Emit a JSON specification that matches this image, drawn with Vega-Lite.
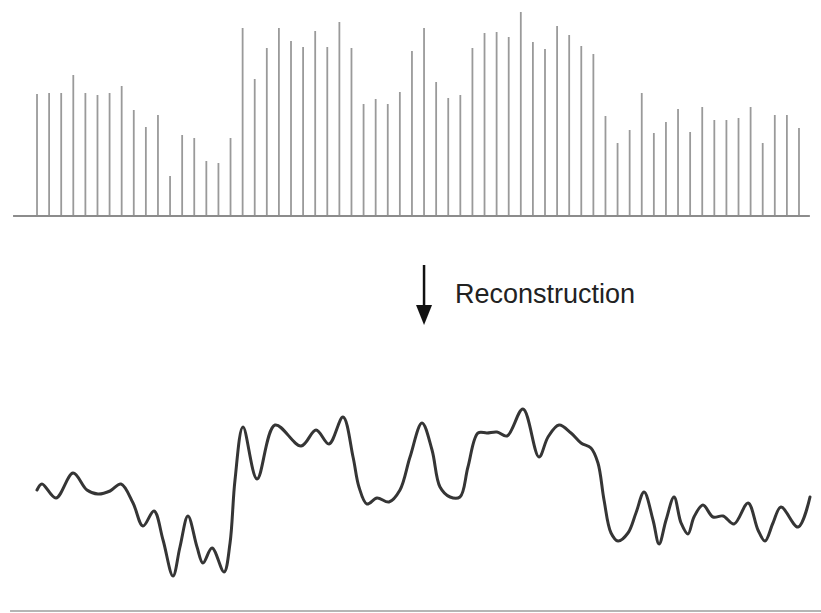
{
  "$schema": "https://vega.github.io/schema/vega-lite/v6.json",
  "padding": 0,
  "spacing": 0,
  "background": "white",
  "datasets": {
    "samples": [
      {"n": 1, "h": 122}, {"n": 2, "h": 123}, {"n": 3, "h": 123}, {"n": 4, "h": 141},
      {"n": 5, "h": 123}, {"n": 6, "h": 121}, {"n": 7, "h": 123}, {"n": 8, "h": 130},
      {"n": 9, "h": 106}, {"n": 10, "h": 89}, {"n": 11, "h": 101}, {"n": 12, "h": 40},
      {"n": 13, "h": 81}, {"n": 14, "h": 78}, {"n": 15, "h": 55}, {"n": 16, "h": 53},
      {"n": 17, "h": 78}, {"n": 18, "h": 188}, {"n": 19, "h": 137}, {"n": 20, "h": 168},
      {"n": 21, "h": 188}, {"n": 22, "h": 175}, {"n": 23, "h": 169}, {"n": 24, "h": 185},
      {"n": 25, "h": 169}, {"n": 26, "h": 194}, {"n": 27, "h": 168}, {"n": 28, "h": 112},
      {"n": 29, "h": 117}, {"n": 30, "h": 112}, {"n": 31, "h": 124}, {"n": 32, "h": 165},
      {"n": 33, "h": 188}, {"n": 34, "h": 134}, {"n": 35, "h": 118}, {"n": 36, "h": 121},
      {"n": 37, "h": 168}, {"n": 38, "h": 183}, {"n": 39, "h": 184}, {"n": 40, "h": 179},
      {"n": 41, "h": 204}, {"n": 42, "h": 174}, {"n": 43, "h": 167}, {"n": 44, "h": 190},
      {"n": 45, "h": 181}, {"n": 46, "h": 170}, {"n": 47, "h": 162}, {"n": 48, "h": 100},
      {"n": 49, "h": 73}, {"n": 50, "h": 86}, {"n": 51, "h": 123}, {"n": 52, "h": 83},
      {"n": 53, "h": 94}, {"n": 54, "h": 107}, {"n": 55, "h": 84}, {"n": 56, "h": 109},
      {"n": 57, "h": 96}, {"n": 58, "h": 96}, {"n": 59, "h": 98}, {"n": 60, "h": 109},
      {"n": 61, "h": 73}, {"n": 62, "h": 101}, {"n": 63, "h": 101}, {"n": 64, "h": 88}
    ],
    "signal": [
      {"t": 1.00, "v": 121}, {"t": 1.41, "v": 127}, {"t": 2.57, "v": 113}, {"t": 3.98, "v": 138},
      {"t": 5.13, "v": 121}, {"t": 6.04, "v": 117}, {"t": 7.04, "v": 120}, {"t": 7.94, "v": 127},
      {"t": 8.94, "v": 108}, {"t": 9.76, "v": 85}, {"t": 10.67, "v": 100}, {"t": 11.42, "v": 71},
      {"t": 12.24, "v": 35}, {"t": 12.82, "v": 64}, {"t": 13.48, "v": 95}, {"t": 14.23, "v": 64},
      {"t": 14.72, "v": 48}, {"t": 15.47, "v": 63}, {"t": 16.46, "v": 39}, {"t": 16.96, "v": 68},
      {"t": 17.37, "v": 131}, {"t": 18.03, "v": 184}, {"t": 19.19, "v": 132}, {"t": 20.68, "v": 186},
      {"t": 22.83, "v": 165}, {"t": 24.07, "v": 181}, {"t": 25.14, "v": 167}, {"t": 26.30, "v": 194},
      {"t": 27.13, "v": 154}, {"t": 27.62, "v": 124}, {"t": 28.28, "v": 107}, {"t": 29.11, "v": 113},
      {"t": 30.10, "v": 109}, {"t": 31.01, "v": 121}, {"t": 31.84, "v": 154}, {"t": 32.83, "v": 188},
      {"t": 33.66, "v": 161}, {"t": 34.32, "v": 124}, {"t": 35.15, "v": 114}, {"t": 35.97, "v": 114},
      {"t": 36.63, "v": 144}, {"t": 37.46, "v": 178}, {"t": 38.21, "v": 178}, {"t": 39.03, "v": 179},
      {"t": 39.86, "v": 175}, {"t": 41.18, "v": 202}, {"t": 42.50, "v": 154}, {"t": 43.25, "v": 174},
      {"t": 44.16, "v": 186}, {"t": 45.15, "v": 178}, {"t": 45.98, "v": 168}, {"t": 46.80, "v": 163},
      {"t": 47.38, "v": 148}, {"t": 47.88, "v": 111}, {"t": 48.46, "v": 78}, {"t": 49.04, "v": 70},
      {"t": 49.86, "v": 78}, {"t": 50.52, "v": 98}, {"t": 51.19, "v": 119}, {"t": 51.93, "v": 91},
      {"t": 52.43, "v": 67}, {"t": 53.01, "v": 91}, {"t": 53.67, "v": 114}, {"t": 54.25, "v": 88},
      {"t": 54.82, "v": 77}, {"t": 55.32, "v": 94}, {"t": 56.06, "v": 106}, {"t": 56.89, "v": 94},
      {"t": 57.72, "v": 95}, {"t": 58.63, "v": 87}, {"t": 59.79, "v": 108}, {"t": 60.61, "v": 81},
      {"t": 61.19, "v": 70}, {"t": 61.85, "v": 88}, {"t": 62.51, "v": 104}, {"t": 63.92, "v": 84},
      {"t": 64.91, "v": 114}
    ],
    "label": [
      {"t": 33.0, "y0": 35, "y1": 80, "tip": 85, "tx": 35.56, "ty": 73, "text": "Reconstruction"}
    ]
  },
  "vconcat": [
    {
      "width": 821,
      "height": 230,
      "layer": [
        {
          "data": {"name": "samples"},
          "mark": {"type": "rule", "color": "#9a9a9a", "strokeWidth": 1.8},
          "encoding": {
            "x": {"field": "n", "type": "quantitative", "axis": null,
                  "scale": {"domain": [-2.06, 65.82], "nice": false, "zero": false}},
            "y": {"field": "h", "type": "quantitative", "axis": null,
                  "scale": {"domain": [-14, 216], "nice": false, "zero": false}},
            "y2": {"datum": 0}
          }
        },
        {
          "data": {"values": [{}]},
          "mark": {"type": "rule", "color": "#8c8c8c", "strokeWidth": 2},
          "encoding": {
            "x": {"datum": -0.98, "type": "quantitative"},
            "x2": {"datum": 64.9},
            "y": {"datum": 0, "type": "quantitative"}
          }
        }
      ]
    },
    {
      "width": 821,
      "height": 150,
      "data": {"name": "label"},
      "layer": [
        {
          "mark": {"type": "rule", "color": "#111111", "strokeWidth": 2.5},
          "encoding": {
            "x": {"field": "t", "type": "quantitative", "axis": null,
                  "scale": {"domain": [-2.06, 65.82], "nice": false, "zero": false}},
            "y": {"field": "y0", "type": "quantitative", "axis": null,
                  "scale": {"domain": [0, 150], "reverse": true, "nice": false, "zero": false}},
            "y2": {"field": "y1"}
          }
        },
        {
          "mark": {"type": "point", "shape": "M-0.8,-1L0.8,-1L0,1Z", "size": 400,
                   "filled": true, "color": "#111111", "opacity": 1},
          "encoding": {
            "x": {"field": "t", "type": "quantitative"},
            "y": {"field": "tip", "type": "quantitative"}
          }
        },
        {
          "mark": {"type": "text", "align": "left", "baseline": "alphabetic",
                   "font": "Liberation Sans", "fontSize": 27, "color": "#222222"},
          "encoding": {
            "x": {"field": "tx", "type": "quantitative"},
            "y": {"field": "ty", "type": "quantitative"},
            "text": {"field": "text"}
          }
        }
      ]
    },
    {
      "width": 821,
      "height": 233,
      "layer": [
        {
          "data": {"values": [{}]},
          "mark": {"type": "rule", "color": "#b5b5b5", "strokeWidth": 2},
          "encoding": {
            "x": {"datum": -1.23, "type": "quantitative",
                  "scale": {"domain": [-2.06, 65.82], "nice": false, "zero": false}, "axis": null},
            "x2": {"datum": 65.82},
            "y": {"datum": 0, "type": "quantitative",
                  "scale": {"domain": [-2, 231], "nice": false, "zero": false}, "axis": null}
          }
        },
        {
          "data": {"name": "signal"},
          "mark": {"type": "line", "interpolate": "catmull-rom", "color": "#353535",
                   "strokeWidth": 3, "strokeCap": "round", "strokeJoin": "round"},
          "encoding": {
            "x": {"field": "t", "type": "quantitative"},
            "y": {"field": "v", "type": "quantitative"}
          }
        }
      ]
    }
  ],
  "config": {
    "view": {"stroke": null},
    "concat": {"spacing": 0}
  }
}
